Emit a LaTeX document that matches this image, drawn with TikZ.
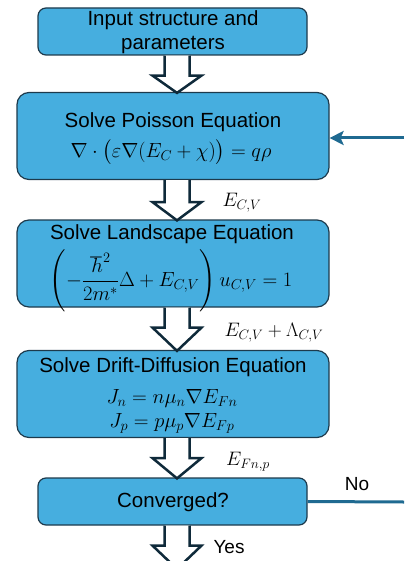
\RequirePackage{fix-cm}
\documentclass[tikz,border=0pt]{standalone}
\usepackage{fontspec}
\setmainfont{Liberation Sans}
\usepackage{amsmath}
\usetikzlibrary{calc,arrows.meta}
\definecolor{boxfill}{HTML}{46AEDF}
\definecolor{boxdraw}{HTML}{1D3A4C}
\definecolor{arrline}{HTML}{0F2A3A}
\definecolor{fbline}{HTML}{1F6A91}
\newcommand{\blockarr}[3]{%
  \fill[white] let \p1=(#1), \p2=(#2) in (164.5pt,\y1) -- (189.5pt,\y1) -- (189.5pt,{\y1-#3}) -- (201.5pt,{\y1-#3}) -- (177pt,{\y2-1pt}) -- (152.5pt,{\y1-#3}) -- (164.5pt,{\y1-#3}) -- cycle;
  \draw[barr] let \p1=(#1), \p2=(#2) in (189.5pt,\y1) -- (189.5pt,{\y1-#3}) -- (201.5pt,{\y1-#3}) -- (177pt,{\y2-1pt}) -- (152.5pt,{\y1-#3}) -- (164.5pt,{\y1-#3}) -- (164.5pt,\y1);}
\begin{document}
\begin{tikzpicture}[x=1pt,y=-1pt,
  box/.style={draw=boxdraw, line width=1.2pt, fill=boxfill, inner sep=0pt},
  sbox/.style={box, rounded corners=8pt, minimum width=269pt, minimum height=47pt},
  lbox/.style={box, rounded corners=12pt, minimum width=312pt, minimum height=87pt},
  txt/.style={font=\fontsize{20.5}{24}\selectfont, inner sep=0pt, align=center},
  lab/.style={font=\fontsize{19.5}{23}\selectfont, inner sep=0pt},
  barr/.style={draw=arrline, line width=2.5pt, line join=miter},
  fb/.style={draw=fbline, line width=3pt}]
\useasboundingbox (0,0) rectangle (404,561);
\clip (0,0) rectangle (404,561);
% boxes
\node[sbox] (b1) at (172.5,31.5) {};
\node[lbox] (b2) at (173,136) {};
\node[lbox] (b3) at (173,263.5) {};
\node[lbox] (b4) at (173,394) {};
\node[sbox] (b5) at (172.5,501.5) {};
% texts
\node[txt] (t1) at (173,32) {Input structure and\\parameters};
\node[txt] (t2a) at (173,122) {Solve Poisson Equation};
\node[txt] (t2b) at (171,152) {$\nabla\cdot\big(\varepsilon\nabla(E_C+\chi)\big)=q\rho$};
\node[txt] (t3a) at (172,234) {Solve Landscape Equation};
\node[txt] (t3b) at (171,281) {$\displaystyle\left(-\frac{\hbar^2}{2m^*}\Delta+E_{C,V}\right)u_{C,V}=1$};
\node[txt] (t4a) at (173,367) {Solve Drift-Diffusion Equation};
\node[txt] (t4b) at (172,398) {$J_n=n\mu_n\nabla E_{Fn}$};
\node[txt] (t4c) at (172,423) {$J_p=p\mu_p\nabla E_{Fp}$};
\node[txt] (t5) at (173,502) {Converged?};
% coordinates
\coordinate (fbin) at (404,138);
\coordinate (noend) at (404,502);
\coordinate (yesend) at (177,568);
% block arrows
\blockarr{b1.south}{b2.north}{20pt}
\blockarr{b2.south}{b3.north}{22pt}
\blockarr{b3.south}{b4.north}{20pt}
\blockarr{b4.south}{b5.north}{20pt}
\blockarr{b5.south}{yesend}{20pt}
% labels
\node[lab] (l2) at (242,203) {$E_{C,V}$};
\node[lab] (l3) at (274,333) {$E_{C,V}+\Lambda_{C,V}$};
\node[lab] (l4) at (248,462) {$E_{Fn,p}$};
\node[txt, font=\fontsize{19}{22}\selectfont] (no) at (357,484) {No};
\node[txt, font=\fontsize{19}{22}\selectfont] (yes) at (229,547) {Yes};
% feedback
\draw[fb, -{Stealth[length=14pt,width=14pt,inset=3pt]}] (fbin) -- (fbin -| b2.east);
\draw[fb] (b5.east) -- (noend);
\end{tikzpicture}
\end{document}
